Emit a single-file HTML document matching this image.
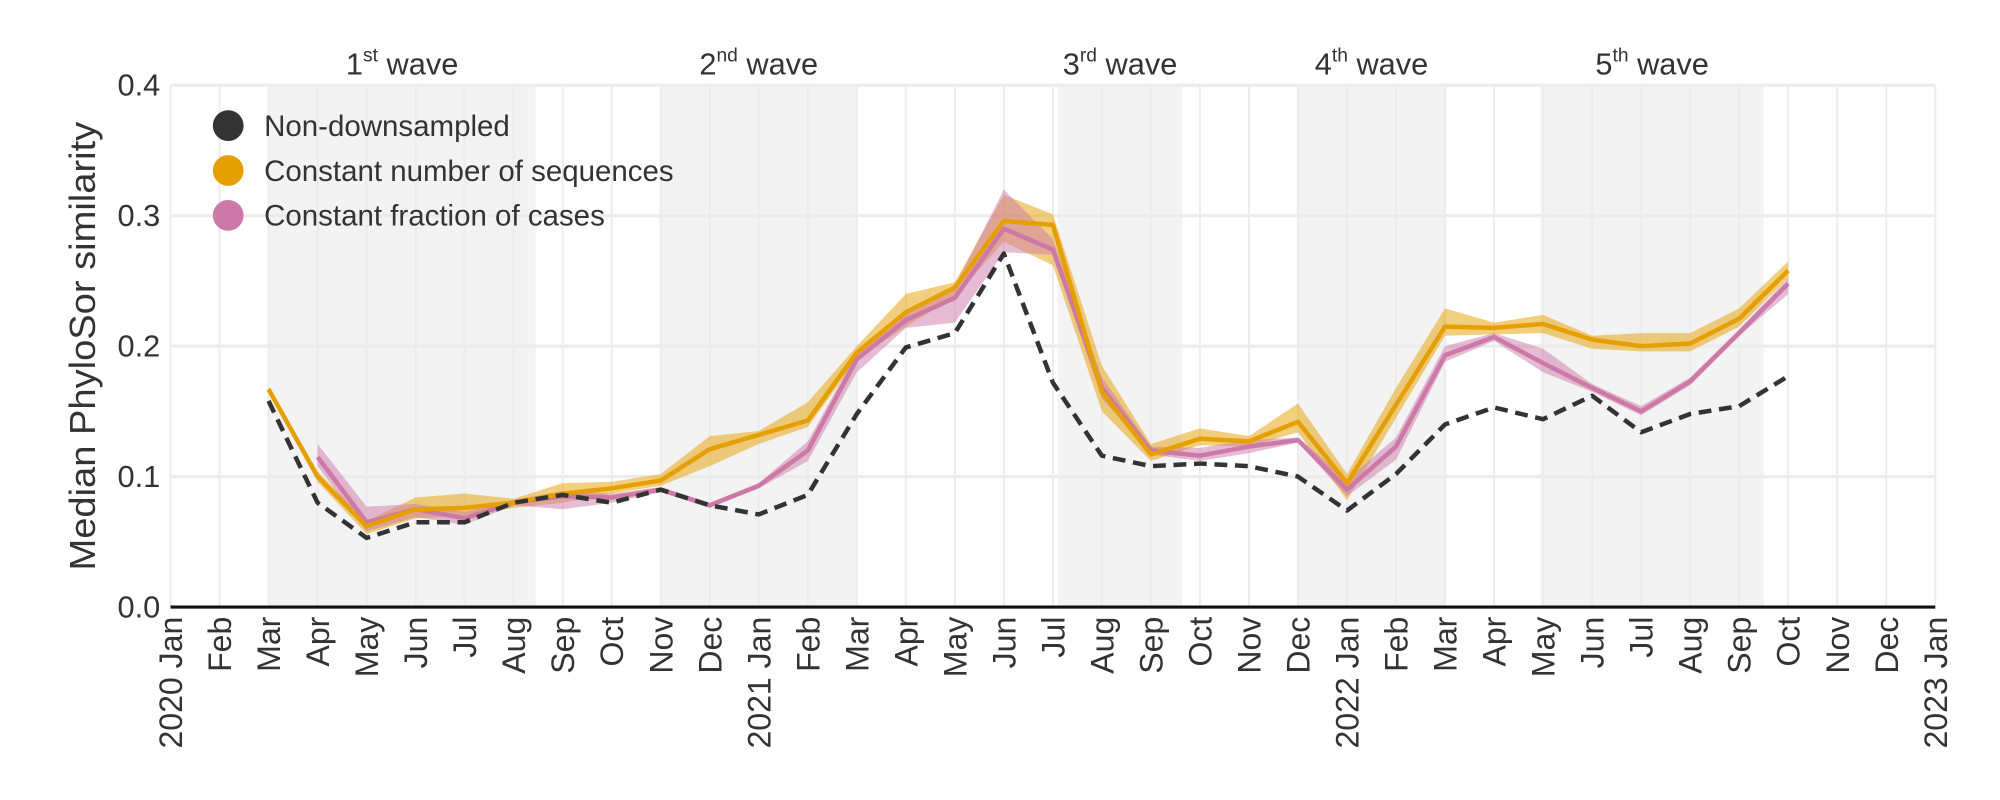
<!DOCTYPE html>
<html><head><meta charset="utf-8"><style>
html,body{margin:0;padding:0;background:#fff;}
svg{display:block;font-family:"Liberation Sans",sans-serif;}
</style></head><body>
<svg id="chart" width="2000" height="800" viewBox="0 0 1560 624" xmlns="http://www.w3.org/2000/svg">
<g id="bg"></g><g id="grid"></g><g id="bands"></g><g id="lines"></g><g id="axes"></g><g id="legend"></g>
</svg>
<script>
const months = ["Jan","Feb","Mar","Apr","May","Jun","Jul","Aug","Sep","Oct","Nov","Dec"];
const yTicks = [0.0,0.1,0.2,0.3,0.4];
const waveNames = ["1","2","3","4","5"];
const waveSups = ["st","nd","rd","th","th"];
const waveStart = [2.0,10.0,18.1,23.0,27.95];
const waveEnd = [7.45,14.0,20.64,26.0,32.5];
// month index (Jan 2020 = 0)
const blackIdx = [2,3,4,5,6,7,8,9,10,11,12,13,14,15,16,17,18,19,20,21,22,23,24,25,26,27,28,29,30,31,32,33];
const blackVal = [.158,.080,.053,.065,.065,.080,.086,.080,.090,.078,.071,.086,.148,.199,.210,.271,.172,.116,.108,.110,.108,.100,.074,.102,.140,.153,.144,.162,.134,.148,.154,.177];
const orangeIdx = blackIdx;
const orangeVal = [.167,.100,.062,.075,.076,.080,.087,.091,.097,.121,.132,.143,.195,.226,.245,.296,.293,.165,.117,.129,.127,.142,.095,.155,.215,.214,.217,.205,.200,.202,.221,.258];
const orangeLo = [.165,.096,.056,.068,.070,.076,.080,.087,.093,.108,.125,.138,.190,.215,.238,.280,.262,.150,.112,.124,.123,.134,.082,.145,.208,.209,.210,.198,.196,.196,.215,.252];
const orangeHi = [.169,.104,.066,.084,.087,.083,.095,.096,.102,.131,.135,.157,.200,.240,.249,.316,.301,.185,.125,.137,.131,.156,.102,.168,.229,.218,.224,.208,.210,.210,.229,.265];
const pinkIdx = [3,4,5,6,7,8,9,10,11,12,13,14,15,16,17,18,19,20,21,22,23,24,25,26,27,28,29,30,31,32,33];
const pinkVal = [.115,.065,.075,.068,.080,.085,.084,.090,.078,.093,.120,.190,.220,.237,.290,.274,.168,.120,.116,.123,.128,.090,.123,.193,.207,.187,.168,.150,.173,.210,.248];
const pinkLo = [.108,.058,.069,.063,.078,.075,.080,.088,.076,.091,.112,.180,.214,.218,.272,.270,.160,.117,.112,.118,.126,.085,.113,.188,.204,.180,.165,.147,.170,.208,.240];
const pinkHi = [.125,.077,.079,.073,.082,.089,.087,.092,.080,.095,.127,.195,.226,.246,.320,.282,.176,.123,.122,.128,.130,.098,.130,.200,.210,.198,.171,.154,.176,.213,.252];

const NS="http://www.w3.org/2000/svg";
const X0=133, X1=1509.5, Y0=473.5, Y1=66.5;
const x = m => X0 + (X1-X0)*m/36;
const y = v => Y0 - (Y0-Y1)*v/0.4;
function mk(tag, attrs, parent){const e=document.createElementNS(NS,tag);for(const k in attrs)e.setAttribute(k,attrs[k]);document.getElementById(parent).appendChild(e);return e;}

for(let i=0;i<waveStart.length;i++){
  const r=mk('rect',{x:x(waveStart[i]),y:Y1,width:x(waveEnd[i])-x(waveStart[i]),height:Y0-Y1,fill:'#f3f3f3'},'bg');
  
  
  const t=mk('text',{x:(x(waveStart[i])+x(waveEnd[i]))/2,y:58,'text-anchor':'middle','font-size':24,fill:'#333'},'bg');
  
  
  t.innerHTML=waveNames[i]+'<tspan dy="-10" font-size="15">'+waveSups[i]+'</tspan><tspan dy="10"> wave</tspan>';
}
for(let m=0;m<=36;m++){
  const l=mk('line',{x1:x(m),x2:x(m),y1:Y1,y2:Y0,stroke:'#ececec','stroke-width':1.5},'grid');
  
  
}
yTicks.forEach(v=>{
  const l=mk('line',{x1:X0,x2:X1,y1:y(v),y2:y(v),stroke:'#ececec','stroke-width':2.5},'grid');
  
  
  const t=mk('text',{x:125,y:y(v)+8,'text-anchor':'end','font-size':24,fill:'#333'},'axes');
  
  
  t.textContent=v.toFixed(1);
});
function band(idx,lo,hi,color,name){
  let d='M'+idx.map((m,i)=>x(m)+','+y(hi[i])).join('L');
  d+='L'+idx.slice().reverse().map((m,j)=>{const i=idx.length-1-j;return x(m)+','+y(lo[i]);}).join('L')+'Z';
  const p=mk('path',{d:d,fill:color,'fill-opacity':0.5},'bands');
  
  
}
function line(idx,val,color,name,dash){
  const a={d:'M'+idx.map((m,i)=>x(m)+','+y(val[i])).join('L'),fill:'none',stroke:color,'stroke-width':3.5,'stroke-linejoin':'round'};
  if(dash)a['stroke-dasharray']='10,6';
  const p=mk('path',a,'lines');
  
  
}
band(orangeIdx,orangeLo,orangeHi,'#E69F00','constant-sequences-ci-band');
band(pinkIdx,pinkLo,pinkHi,'#CC79A7','constant-fraction-ci-band');
line(pinkIdx,pinkVal,'#CC79A7','constant-fraction-line');
line(orangeIdx,orangeVal,'#E69F00','constant-sequences-line');
line(blackIdx,blackVal,'#333','non-downsampled-line',true);

const ax=mk('line',{x1:X0,x2:X1,y1:Y0,y2:Y0,stroke:'#111','stroke-width':2.5},'axes');


for(let m=0;m<=36;m++){
  const t=mk('text',{transform:'translate('+(x(m)+9)+',481) rotate(-90)','text-anchor':'end','font-size':25,fill:'#333'},'axes');
  
  
  t.textContent=(m%12===0 ? (2020+m/12)+' ' : '')+months[m%12];
}
const yl=mk('text',{transform:'translate(74,270) rotate(-90)','text-anchor':'middle','font-size':28,fill:'#333',textLength:350,lengthAdjust:'spacingAndGlyphs'},'axes');


yl.textContent='Median PhyloSor similarity';

const legNames=['Non-downsampled','Constant number of sequences','Constant fraction of cases'];
const legColors=['#333','#E69F00','#CC79A7'];
legNames.forEach((n,i)=>{
  const c=mk('circle',{cx:178,cy:98+35*i,r:12,fill:legColors[i]},'legend');
  
  
  const t=mk('text',{x:206,y:106+35*i,'font-size':23,fill:'#333'},'legend');
  
  
  t.textContent=n;
});
</script>
</body></html>
